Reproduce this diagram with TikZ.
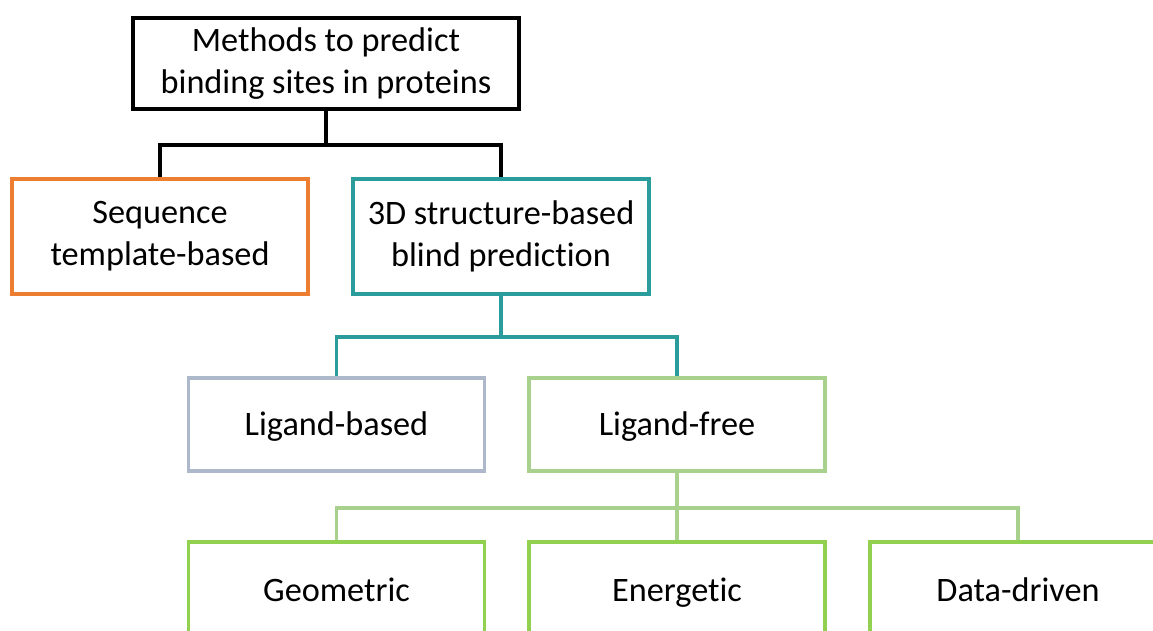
\documentclass[tikz,border=0pt]{standalone}
\usepackage{fontspec}
\setmainfont{Carlito}[RawFeature={-liga;-clig;-calt;-dlig}]
\usepackage{tikz}
\usetikzlibrary{positioning,calc}
\definecolor{orng}{HTML}{ED7D31}
\definecolor{teal3d}{HTML}{2A9C9C}
\definecolor{grayblue}{HTML}{ADB9CA}
\definecolor{lightgrn}{HTML}{A9D18E}
\definecolor{grn}{HTML}{92D050}
\tikzstyle{box}=[draw,line width=1.8pt,fill=white,align=center,
               font=\fontsize{19.5}{24}\selectfont,inner sep=2pt]
\tikzstyle{wide}=[box,minimum width=5.92cm]
\tikzstyle{oneline}=[wide,text height=13pt,text depth=0pt]
\tikzstyle{link}=[line width=1.8pt]

\begin{document}
\begin{tikzpicture}[x=0.02cm,y=-0.02cm]

\useasboundingbox (0,0) rectangle (1153,630);
\clip (0,0) rectangle (1153,630);

% top
\node[box,minimum width=7.72cm,minimum height=1.82cm] (top) at (326,63.5)
    {Methods to predict\\binding sites in proteins};

% second row
\node[wide,draw=orng,minimum height=2.3cm] (seq) at (160,236.5)
    {Sequence\\template-based};
\node[wide,draw=teal3d,minimum height=2.3cm] (struct) at (501,236.5)
    {3D structure-based\\blind prediction};

% third row
\node[oneline,draw=grayblue,minimum height=1.86cm] (lb) at (336.5,424.5) {Ligand-based};
\node[oneline,draw=lightgrn,minimum height=1.86cm] (lf) at (677,424.5) {Ligand-free};

% bottom row
\node[oneline,draw=grn,minimum height=1.92cm] (geo) at (336.5,590) {Geometric};
\node[oneline,draw=grn,minimum height=1.92cm] (ene) at (677,590) {Energetic};
\node[oneline,draw=grn,minimum height=1.92cm] (dd) at (1018,590) {Data-driven};

\coordinate (j1) at (326,145);
\coordinate (j2) at (501,337);
\coordinate (j3) at (677,508);

\draw[link] (top.south) -- (j1) -| (seq.north);
\draw[link] (j1) -| (struct.north);

\draw[link,teal3d] (struct.south) -- (j2) -| (lb.north);
\draw[link,teal3d] (j2) -| (lf.north);

\draw[link,lightgrn] (lf.south) -- (j3) -| (geo.north);
\draw[link,lightgrn] (j3) -| (ene.north);
\draw[link,lightgrn] (j3) -| (dd.north);

\end{tikzpicture}
\end{document}
